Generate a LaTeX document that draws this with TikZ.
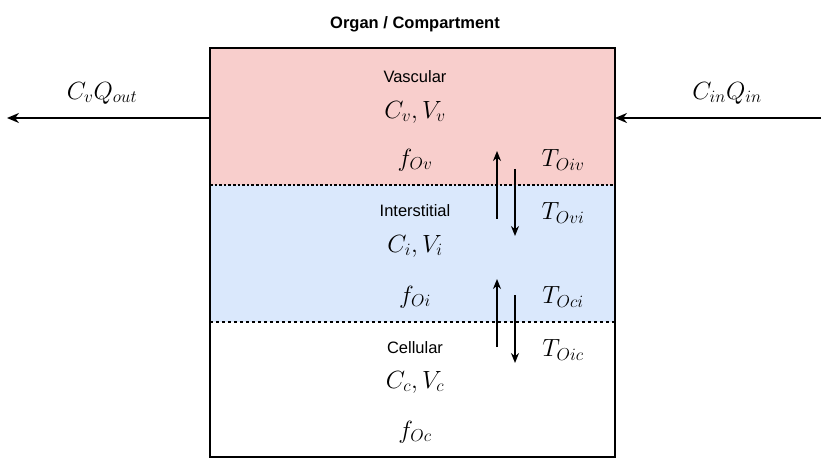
\documentclass[tikz,border=0pt]{standalone}
\usepackage{fontspec}
\setmainfont{Liberation Sans}
\usetikzlibrary{arrows.meta}
\begin{document}
\begin{tikzpicture}[x=1pt,y=-1pt,
  lbl/.style={font=\fontsize{16.5}{19}\selectfont},
  mth/.style={font=\fontsize{23}{26}\selectfont},
  arr/.style={-{Stealth[length=10pt,width=8pt]},line width=1.8pt},
  flow/.style={-{Stealth[length=12pt,width=10pt]},line width=2.6pt}]
\useasboundingbox (0,0) rectangle (830,465);
\fill[fill={rgb,255:red,248;green,206;blue,204}] (210,48) rectangle (615,185);
\fill[fill={rgb,255:red,218;green,232;blue,252}] (210,185) rectangle (615,322);
\draw[line width=2.6pt,dotted] (210,185) -- (615,185);
\draw[line width=1.2pt,dashed] (210,322) -- (615,322);
\node[draw,line width=1.2pt,minimum width=405pt,minimum height=409pt,inner sep=0pt] (box) at (412.5,252.5) {};
\node[font=\bfseries\fontsize{16.5}{19}\selectfont] (title) at (415,24) {Organ / Compartment};
\node[lbl] (vl) at (415,77) {Vascular};
\node[mth] (vc) at (415,112) {$C_v, V_v$};
\node[mth] (vf) at (415,160) {$f_{Ov}$};
\node[lbl] (il) at (415,211) {Interstitial};
\node[mth] (ic) at (415,246) {$C_i, V_i$};
\node[mth] (if) at (415,297) {$f_{Oi}$};
\node[lbl] (cl) at (415,348) {Cellular};
\node[mth] (cc) at (415,382) {$C_c, V_c$};
\node[mth] (cf) at (415,432) {$f_{Oc}$};
\node[mth] (t1) at (563,160) {$T_{Oiv}$};
\node[mth] (t2) at (563,213) {$T_{Ovi}$};
\node[mth] (t3) at (563,297) {$T_{Oci}$};
\node[mth] (t4) at (563,350) {$T_{Oic}$};
\node[mth] (out) at (102,93) {$C_vQ_{out}$};
\node[mth] (in) at (727,93) {$C_{in}Q_{in}$};
\coordinate (a1) at (497,219); \coordinate (a2) at (497,151);
\coordinate (b1) at (515,169); \coordinate (b2) at (515,236);
\coordinate (c1) at (497,347); \coordinate (c2) at (497,279);
\coordinate (d1) at (515,295); \coordinate (d2) at (515,363);
\draw[arr] (a1) -- (a2); \draw[arr] (b1) -- (b2);
\draw[arr] (c1) -- (c2); \draw[arr] (d1) -- (d2);
\coordinate (l1) at (210,118); \coordinate (l2) at (7,118);
\coordinate (r1) at (821,118); \coordinate (r2) at (615,118);
\draw[flow] (l1) -- (l2); \draw[flow] (r1) -- (r2);
\end{tikzpicture}
\end{document}
